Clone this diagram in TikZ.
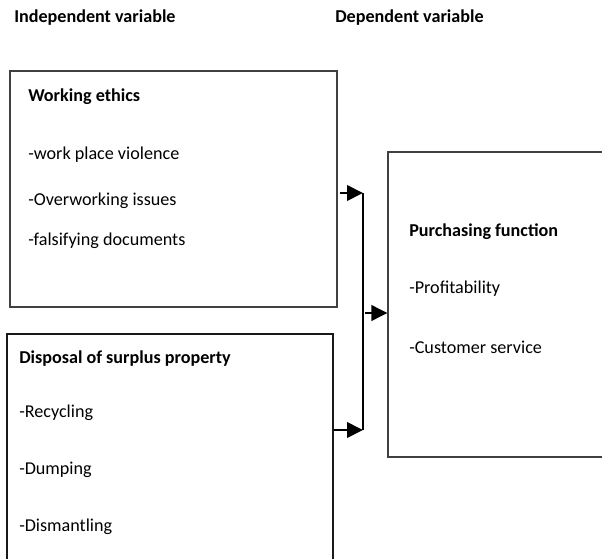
\documentclass[tikz,border=0pt]{standalone}
\usepackage{fontspec}
\setmainfont{Carlito}
\usetikzlibrary{positioning, arrows.meta}

\begin{document}
\begin{tikzpicture}[x=0.75pt,y=-0.75pt,font=\fontsize{13.6}{16}\selectfont,
  box/.style={draw=black!75, line width=0.8pt, inner sep=0pt},
  txt/.style={anchor=west, inner sep=0pt},
  head/.style={anchor=west, inner sep=0pt, font=\fontsize{13.6}{16}\selectfont\bfseries},
  arr/.style={line width=2pt, -{Triangle[length=12pt,width=11.5pt]}}]

\useasboundingbox (0,0) rectangle (602,559);

% Headings
\node[head] (indep) at (14,18) {Independent variable};
\node[head] (dep) at (335,18) {Dependent variable};

% Boxes
\node[box, minimum width=327*0.75pt, minimum height=236*0.75pt] (ethics) at (173.5,189) {};
\node[box, draw=black!90, minimum width=326*0.75pt, minimum height=266*0.75pt] (surplus) at (170,467) {};
\node[box, minimum width=240*0.75pt, minimum height=305*0.75pt] (purchase) at (508,304.5) {};

% Working ethics
\node[head] (we) at (28,97) {Working ethics};
\node[txt] (we1) at (28,155) {-work place violence};
\node[txt] (we2) at (28,201) {-Overworking issues};
\node[txt] (we3) at (28,241) {-falsifying documents};

% Disposal of surplus property
\node[head] (ds) at (19,359) {Disposal of surplus property};
\node[txt] (ds1) at (19,413) {-Recycling};
\node[txt] (ds2) at (19,470) {-Dumping};
\node[txt] (ds3) at (19,527) {-Dismantling};

% Purchasing function
\node[head] (pf) at (409,232) {Purchasing function};
\node[txt] (pf1) at (409,289) {-Profitability};
\node[txt] (pf2) at (409,347) {-Customer service};

% Connectors
\coordinate (bustop) at (363,193);
\coordinate (busbot) at (363,430);
\coordinate (busmid) at (365,313);
\draw[line width=2pt] (bustop) -- (busbot);
\draw[arr] (ethics.east |- bustop) ++(2,0) -- (bustop);
\draw[arr] (surplus.east |- busbot) -- (busbot);
\draw[arr] (busmid) -- (purchase.west |- busmid);

\end{tikzpicture}
\end{document}
